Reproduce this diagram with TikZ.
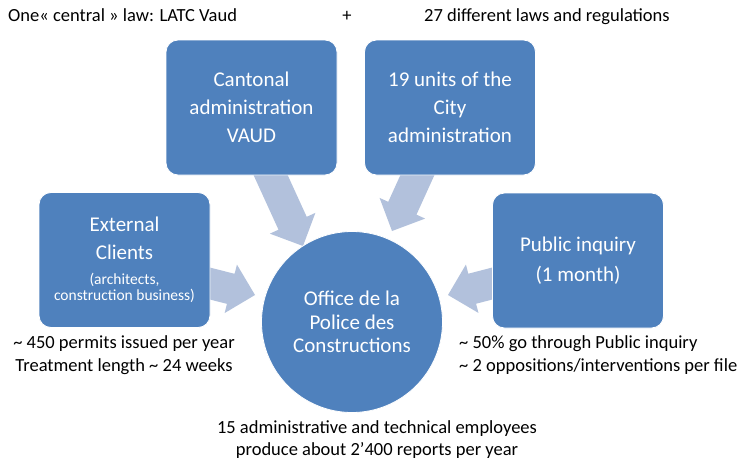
\documentclass[tikz,border=0pt]{standalone}
\usepackage{fontspec}
\setmainfont{Carlito}
\usetikzlibrary{calc}
\definecolor{boxblue}{RGB}{79,129,189}
\definecolor{arrowblue}{RGB}{178,193,220}
\pgfdeclarelayer{bg}
\pgfsetlayers{bg,main}
\newcommand{\blockarrow}[3]{%
  \coordinate (#1h) at ($(#3)!25pt!(#2)$);
  \fill[arrowblue] ($(#2)!15.5pt!90:(#3)$) -- ($(#1h)!15.5pt!90:(#3)$) -- ($(#1h)!25pt!90:(#3)$) -- (#3)
    -- ($(#1h)!25pt!-90:(#3)$) -- ($(#1h)!15.5pt!-90:(#3)$) -- ($(#2)!15.5pt!-90:(#3)$) -- cycle;}
\begin{document}
\begin{tikzpicture}[x=1pt,y=-1pt,
  box/.style={rectangle, rounded corners=12pt, fill=boxblue, draw=white, line width=0.8pt,
    minimum width=171pt, minimum height=135pt, text=white, align=center, inner sep=0pt,
    font=\fontsize{21}{28}\selectfont},
  hub/.style={circle, fill=boxblue, draw=white, line width=0.8pt, minimum size=181pt,
    inner sep=0pt, text=white, align=center, font=\fontsize{21}{23.5}\selectfont},
  note/.style={inner sep=0pt, anchor=base, font=\fontsize{18.5}{23}\selectfont, text=black}]
\useasboundingbox (0,0) rectangle (739,463);
\begin{pgfonlayer}{bg}
  \fill[white] (0,0) rectangle (739,463);
\end{pgfonlayer}

% boxes
\node[box] (cant) at (251.5,107.5) {Cantonal\\administration\\VAUD};
\node[box] (units) at (450,107.5) {19 units of the\\City\\administration};
\node[box] (ext) at (124.5,260) {External\\Clients\\[-3pt]\fontsize{15.5}{16}\selectfont(architects,\\[-12pt]\fontsize{15.5}{16}\selectfont construction business)};
\node[box] (pub) at (578,260.5) {Public inquiry\\[2pt](1 month)};
\node[hub] (office) at (352,322) {Office de la\\Police des\\Constructions};

% arrow ends
\coordinate (t1) at (266,165);  \coordinate (p1) at (303,246);
\coordinate (t2) at (422,165);  \coordinate (p2) at (392,231);
\coordinate (t3) at (200,281);  \coordinate (p3) at (255,295);
\coordinate (t4) at (502,281);  \coordinate (p4) at (448,295);
\begin{pgfonlayer}{bg}
  \blockarrow{a1}{t1}{p1}
  \blockarrow{a2}{t2}{p2}
  \blockarrow{a3}{t3}{p3}
  \blockarrow{a4}{t4}{p4}
\end{pgfonlayer}

% texts
\node[note, anchor=base west] (law1) at (8,21) {One« central » law: LATC Vaud};
\node[note] (plus) at (347,21) {+};
\node[note, anchor=base west] (law2) at (424,21) {27 different laws and regulations};
\node[note] (perm1) at (124,348) {\textasciitilde{} 450 permits issued per year};
\node[note] (perm2) at (124,371) {Treatment length \textasciitilde{} 24 weeks};
\node[note, anchor=base west] (pi1) at (459,348) {\textasciitilde{} 50\% go through Public inquiry};
\node[note, anchor=base west] (pi2) at (459,371) {\textasciitilde{} 2 oppositions/interventions per file};
\node[note] (emp1) at (377,433) {15 administrative and technical employees};
\node[note] (emp2) at (377,455) {produce about 2’400 reports per year};
\end{tikzpicture}
\end{document}
